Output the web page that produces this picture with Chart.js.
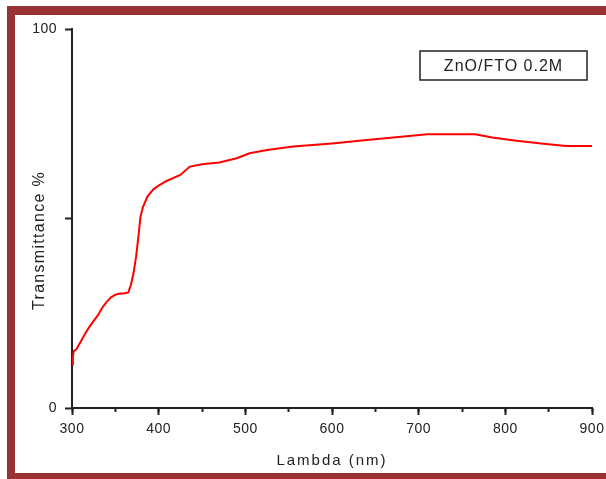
<!DOCTYPE html>
<html>
<head>
<meta charset="utf-8">
<script src="https://cdn.jsdelivr.net/npm/chart.js@4.4.1/dist/chart.umd.min.js"></script>
<style>
  html, body { margin: 0; padding: 0; background: #fff; overflow: hidden; }
  #frame {
    position: absolute; left: 7px; top: 6px; width: 640px; height: 458px;
    border-left: 8px solid #993333; border-top: 9px solid #993333; border-bottom: 7px solid #993333;
  }
  #chart { position: absolute; left: 0; top: 0; }
</style>
</head>
<body>
<div id="frame"></div>
<canvas id="chart" width="606" height="479"></canvas>
<script>
// wavelength (nm) and transmittance (%)
const lambda = [300, 301, 302, 305, 310, 315, 320, 325, 330, 335, 340, 345, 350, 355, 360, 365,
  368, 371, 374, 377, 379, 382, 387, 394, 400, 409, 425, 436, 450, 470, 490, 505, 525, 555,
  600, 640, 680, 710, 765, 785, 813, 844, 870, 900];
const transmittance = [11.5, 13.5, 15, 15.5, 17.5, 19.5, 21.4, 23, 24.5, 26.5, 28, 29.2, 29.9, 30.2, 30.2, 30.5,
  32.5, 35.6, 40, 46, 50.5, 53.1, 55.8, 57.7, 58.7, 59.9, 61.5, 63.7, 64.3, 64.8, 65.9, 67.2, 68.1, 69,
  69.8, 70.7, 71.6, 72.2, 72.2, 71.4, 70.5, 69.7, 69.1, 69.1];
const sampleLabel = "ZnO/FTO 0.2M";
const xTitle = "Lambda (nm)";
const yTitle = "Transmittance %";

const axisColor = "#222";
const fontFamily = "'Liberation Sans', Arial, sans-serif";

// letter spacing per scale (Chart.js has no option for it), plus a shift of the y title
const letterSpacing = {
  x: { ticks: "0.5px", title: "2px", shift: 0 },
  y: { ticks: "0.5px", title: "1.3px", shift: 22 }
};

const spacingPlugin = {
  id: "spacing",
  afterUpdate(chart) {
    Object.values(chart.scales).forEach((scale) => {
      const sp = letterSpacing[scale.id];
      if (!sp || scale._spaced) return;
      scale._spaced = true;
      ["drawLabels", "drawTitle"].forEach((name) => {
        const orig = scale[name];
        scale[name] = function (...args) {
          const ctx = this.ctx;
          ctx.save();
          if (name === "drawTitle") {
            ctx.letterSpacing = sp.title;
            ctx.translate(0, sp.shift);
          } else {
            ctx.letterSpacing = sp.ticks;
          }
          orig.apply(this, args);
          ctx.restore();
        };
      });
    });
  }
};

// boxed sample label in the top right corner
const boxLabelPlugin = {
  id: "boxLabel",
  afterDraw(chart) {
    const { ctx, chartArea } = chart;
    const w = 167, h = 29;
    const left = chartArea.right - 172;
    const top = chartArea.top + 22;
    ctx.save();
    ctx.strokeStyle = axisColor;
    ctx.lineWidth = 1.5;
    ctx.strokeRect(left, top, w, h);
    ctx.fillStyle = "#222";
    ctx.font = "16px " + fontFamily;
    ctx.letterSpacing = "1px";
    ctx.textAlign = "center";
    ctx.textBaseline = "middle";
    ctx.fillText(chart.data.datasets[0].label, left + w / 2, top + h / 2 + 1);
    ctx.restore();
  }
};

const axisGrid = {
  drawOnChartArea: false,
  drawTicks: true,
  tickLength: 7,
  tickColor: axisColor,
  tickWidth: 2
};

const noSidePadding = (scale) => {
  scale.paddingLeft = 0;
  scale.paddingRight = 0;
};

new Chart(document.getElementById("chart"), {
  type: "line",
  data: {
    datasets: [{
      label: sampleLabel,
      data: lambda.map((l, i) => ({ x: l, y: transmittance[i] })),
      borderColor: "#ff0000",
      borderWidth: 2,
      pointRadius: 0,
      tension: 0,
      fill: false
    }]
  },
  options: {
    responsive: false,
    devicePixelRatio: 1,
    animation: false,
    layout: { padding: { left: 26, top: 29, right: 14, bottom: 5 } },
    plugins: {
      legend: { display: false },
      tooltip: { enabled: false }
    },
    scales: {
      xMinor: {
        type: "linear",
        position: "bottom",
        weight: 0,
        min: 300,
        max: 900,
        ticks: { display: false, stepSize: 50 },
        grid: { drawOnChartArea: false, drawTicks: true, tickLength: 4, tickColor: axisColor, tickWidth: 2 },
        border: { display: false },
        afterFit: (scale) => { scale.height = 0; noSidePadding(scale); }
      },
      x: {
        type: "linear",
        position: "bottom",
        weight: 1,
        min: 300,
        max: 900,
        ticks: {
          stepSize: 100,
          padding: 6,
          color: "#222",
          font: { family: fontFamily, size: 14 }
        },
        grid: axisGrid,
        border: { display: true, color: axisColor, width: 2 },
        title: {
          display: true,
          text: xTitle,
          color: "#222",
          font: { family: fontFamily, size: 15 }
        },
        afterFit: (scale) => { scale.height = 66; noSidePadding(scale); }
      },
      y: {
        type: "linear",
        min: 0,
        max: 100,
        ticks: {
          stepSize: 50,
          padding: 8,
          color: "#222",
          font: { family: fontFamily, size: 14 },
          callback: (v) => (v === 50 ? "" : v)
        },
        grid: axisGrid,
        border: { display: true, color: axisColor, width: 2 },
        title: {
          display: true,
          text: yTitle,
          color: "#222",
          font: { family: fontFamily, size: 16 }
        },
        afterFit: (scale) => { scale.width = 46; }
      }
    }
  },
  plugins: [spacingPlugin, boxLabelPlugin]
});
</script>
</body>
</html>
